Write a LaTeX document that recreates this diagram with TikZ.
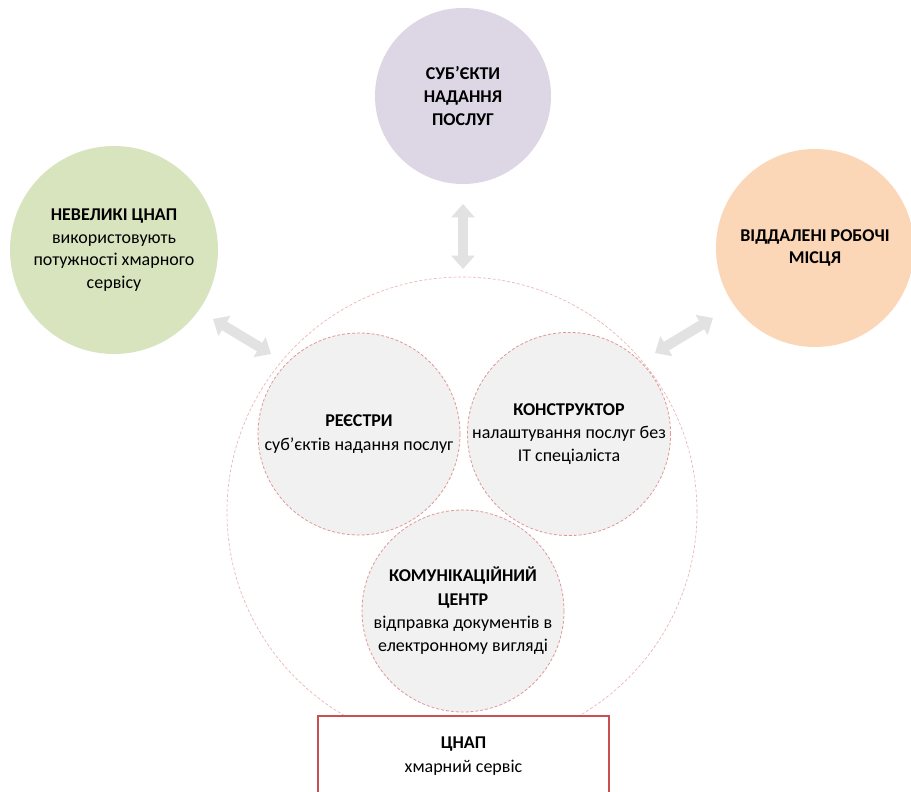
\documentclass[tikz,border=0pt]{standalone}
\usepackage{fontspec}
\setmainfont{Carlito}
\usetikzlibrary{arrows.meta}
\definecolor{cpurple}{RGB}{220,214,229}
\definecolor{cgreen}{RGB}{216,228,190}
\definecolor{corange}{RGB}{251,214,183}
\definecolor{cinner}{RGB}{241,241,241}
\definecolor{cdash}{RGB}{226,150,150}
\definecolor{cdashl}{RGB}{236,180,180}
\definecolor{carrow}{RGB}{226,226,226}
\definecolor{crect}{RGB}{200,80,80}
\begin{document}
\begin{tikzpicture}[x=0.75pt,y=-0.75pt,
  outer/.style={circle,inner sep=0pt,align=center,font=\fontsize{13.5}{17}\selectfont,text=black},
  inner/.style={circle,fill=cinner,draw=cdash,line width=0.6pt,dash pattern=on 2.2pt off 1.5pt,inner sep=0pt,minimum size=202*0.75pt,align=center,font=\fontsize{13.5}{17.5}\selectfont},
  blockarr/.style={line width=7.5pt,draw=carrow,{Triangle[length=10pt,width=17pt]}-{Triangle[length=10pt,width=17pt]}},
  ttl/.style={font=\bfseries}]
\clip (0,0) rectangle (911,792);
\fill[white] (0,0) rectangle (911,792);
% big dashed circle
\node[circle,draw=cdashl,line width=0.5pt,dash pattern=on 2.2pt off 1.5pt,inner sep=0pt,minimum size=470*0.75pt] (big) at (462,512) {};
% outer circles
\node[outer,fill=cpurple,minimum size=176*0.75pt] (subj) at (463,96) {\textbf{СУБ’ЄКТИ}\\\textbf{НАДАННЯ}\\\textbf{ПОСЛУГ}};
\node[outer,fill=cgreen,minimum size=208*0.75pt] (small) at (114,250) {\textbf{НЕВЕЛИКІ ЦНАП}\\використовують\\потужності хмарного\\сервісу};
\node[outer,fill=corange,minimum size=198*0.75pt] (remote) at (815,248) {\textbf{ВІДДАЛЕНІ РОБОЧІ}\\\textbf{МІСЦЯ}};
% inner circles
\node[inner] (reg) at (359,434) {\textbf{РЕЄСТРИ}\\суб’єктів надання послуг};
\node[inner] (cons) at (569,434) {\textbf{КОНСТРУКТОР}\\налаштування послуг без\\IT спеціаліста};
\node[inner] (comm) at (463,611) {\textbf{КОМУНІКАЦІЙНИЙ}\\\textbf{ЦЕНТР}\\відправка документів в\\електронному вигляді};
% rectangle
\node[draw=crect,line width=1pt,fill=white,minimum width=291*0.75pt,minimum height=80*0.75pt,inner sep=0pt,align=center,font=\fontsize{13.5}{18}\selectfont] (cnap) at (463.5,756) {\textbf{ЦНАП}\\хмарний сервіс};
% arrows
\coordinate (t1) at (463,204);
\coordinate (t2) at (463,269);
\coordinate (l1) at (213,319);
\coordinate (l2) at (271,354);
\coordinate (r1) at (655,353);
\coordinate (r2) at (713,318);
\draw[blockarr] (t1) -- (t2);
\draw[blockarr] (l1) -- (l2);
\draw[blockarr] (r1) -- (r2);
\end{tikzpicture}
\end{document}
